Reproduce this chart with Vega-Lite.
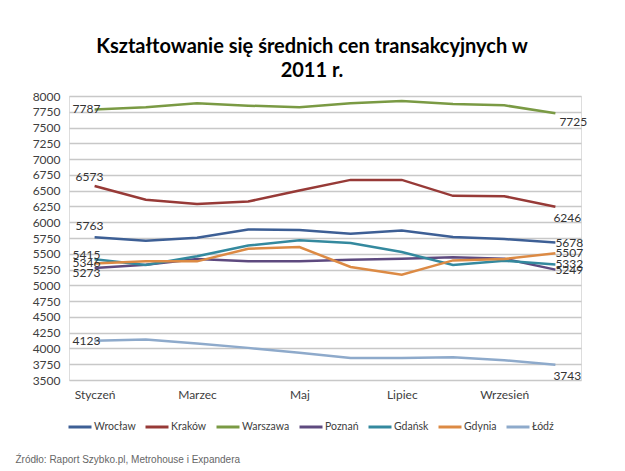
{
  "$schema": "https://vega.github.io/schema/vega-lite/v6.json",
  "width": 512,
  "height": 284,
  "autosize": "none",
  "padding": {"left": 69, "top": 96, "right": 44, "bottom": 91},
  "background": "white",
  "title": {
    "text": ["Kształtowanie się średnich cen transakcyjnych w", "2011 r."],
    "font": "Lato",
    "fontSize": 20,
    "fontWeight": "bold",
    "color": "#000000",
    "anchor": "middle",
    "dx": -13,
    "offset": 9,
    "lineHeight": 24
  },
  "datasets": {
    "prices": [
      {"city": "Wrocław", "month": "Styczeń", "price": 5763},
      {"city": "Wrocław", "month": "Luty", "price": 5705},
      {"city": "Wrocław", "month": "Marzec", "price": 5755},
      {"city": "Wrocław", "month": "Kwiecień", "price": 5885},
      {"city": "Wrocław", "month": "Maj", "price": 5875},
      {"city": "Wrocław", "month": "Czerwiec", "price": 5817},
      {"city": "Wrocław", "month": "Lipiec", "price": 5870},
      {"city": "Wrocław", "month": "Sierpień", "price": 5765},
      {"city": "Wrocław", "month": "Wrzesień", "price": 5733},
      {"city": "Wrocław", "month": "Październik", "price": 5678},
      {"city": "Kraków", "month": "Styczeń", "price": 6573},
      {"city": "Kraków", "month": "Luty", "price": 6355},
      {"city": "Kraków", "month": "Marzec", "price": 6290},
      {"city": "Kraków", "month": "Kwiecień", "price": 6328},
      {"city": "Kraków", "month": "Maj", "price": 6502},
      {"city": "Kraków", "month": "Czerwiec", "price": 6671},
      {"city": "Kraków", "month": "Lipiec", "price": 6671},
      {"city": "Kraków", "month": "Sierpień", "price": 6418},
      {"city": "Kraków", "month": "Wrzesień", "price": 6413},
      {"city": "Kraków", "month": "Październik", "price": 6246},
      {"city": "Warszawa", "month": "Styczeń", "price": 7787},
      {"city": "Warszawa", "month": "Luty", "price": 7821},
      {"city": "Warszawa", "month": "Marzec", "price": 7884},
      {"city": "Warszawa", "month": "Kwiecień", "price": 7847},
      {"city": "Warszawa", "month": "Maj", "price": 7821},
      {"city": "Warszawa", "month": "Czerwiec", "price": 7884},
      {"city": "Warszawa", "month": "Lipiec", "price": 7921},
      {"city": "Warszawa", "month": "Sierpień", "price": 7873},
      {"city": "Warszawa", "month": "Wrzesień", "price": 7853},
      {"city": "Warszawa", "month": "Październik", "price": 7725},
      {"city": "Poznań", "month": "Styczeń", "price": 5273},
      {"city": "Poznań", "month": "Luty", "price": 5327},
      {"city": "Poznań", "month": "Marzec", "price": 5417},
      {"city": "Poznań", "month": "Kwiecień", "price": 5380},
      {"city": "Poznań", "month": "Maj", "price": 5380},
      {"city": "Poznań", "month": "Czerwiec", "price": 5406},
      {"city": "Poznań", "month": "Lipiec", "price": 5422},
      {"city": "Poznań", "month": "Sierpień", "price": 5443},
      {"city": "Poznań", "month": "Wrzesień", "price": 5422},
      {"city": "Poznań", "month": "Październik", "price": 5249},
      {"city": "Gdańsk", "month": "Styczeń", "price": 5415},
      {"city": "Gdańsk", "month": "Luty", "price": 5322},
      {"city": "Gdańsk", "month": "Marzec", "price": 5460},
      {"city": "Gdańsk", "month": "Kwiecień", "price": 5630},
      {"city": "Gdańsk", "month": "Maj", "price": 5713},
      {"city": "Gdańsk", "month": "Czerwiec", "price": 5670},
      {"city": "Gdańsk", "month": "Lipiec", "price": 5527},
      {"city": "Gdańsk", "month": "Sierpień", "price": 5322},
      {"city": "Gdańsk", "month": "Wrzesień", "price": 5390},
      {"city": "Gdańsk", "month": "Październik", "price": 5332},
      {"city": "Gdynia", "month": "Styczeń", "price": 5346},
      {"city": "Gdynia", "month": "Luty", "price": 5380},
      {"city": "Gdynia", "month": "Marzec", "price": 5380},
      {"city": "Gdynia", "month": "Kwiecień", "price": 5580},
      {"city": "Gdynia", "month": "Maj", "price": 5607},
      {"city": "Gdynia", "month": "Czerwiec", "price": 5290},
      {"city": "Gdynia", "month": "Lipiec", "price": 5168},
      {"city": "Gdynia", "month": "Sierpień", "price": 5395},
      {"city": "Gdynia", "month": "Wrzesień", "price": 5417},
      {"city": "Gdynia", "month": "Październik", "price": 5507},
      {"city": "Łódź", "month": "Styczeń", "price": 4123},
      {"city": "Łódź", "month": "Luty", "price": 4140},
      {"city": "Łódź", "month": "Marzec", "price": 4077},
      {"city": "Łódź", "month": "Kwiecień", "price": 4009},
      {"city": "Łódź", "month": "Maj", "price": 3930},
      {"city": "Łódź", "month": "Czerwiec", "price": 3850},
      {"city": "Łódź", "month": "Lipiec", "price": 3850},
      {"city": "Łódź", "month": "Sierpień", "price": 3860},
      {"city": "Łódź", "month": "Wrzesień", "price": 3813},
      {"city": "Łódź", "month": "Październik", "price": 3743}
    ]
  },
  "data": {"name": "prices"},
  "encoding": {
    "x": {
      "field": "month",
      "type": "ordinal",
      "sort": ["Styczeń", "Luty", "Marzec", "Kwiecień", "Maj", "Czerwiec", "Lipiec", "Sierpień", "Wrzesień", "Październik"],
      "scale": {"type": "point", "padding": 0.5},
      "axis": {
        "values": ["Styczeń", "Marzec", "Maj", "Lipiec", "Wrzesień"],
        "labelAngle": 0,
        "labelFont": "Lato",
        "labelFontSize": 12,
        "labelColor": "#404040",
        "labelPadding": 9,
        "ticks": false,
        "domain": false,
        "grid": false,
        "title": "Źródło: Raport Szybko.pl, Metrohouse i Expandera",
        "titleFont": "Liberation Sans",
        "titleFontSize": 10,
        "titleFontWeight": "normal",
        "titleColor": "#666666",
        "titleAlign": "left",
        "titleAnchor": "start",
        "titleBaseline": "middle",
        "titleX": -54,
        "titleY": 79
      }
    },
    "y": {
      "field": "price",
      "type": "quantitative",
      "scale": {"domain": [3500, 8000], "nice": false, "zero": false},
      "axis": {
        "values": [3500, 3750, 4000, 4250, 4500, 4750, 5000, 5250, 5500, 5750, 6000, 6250, 6500, 6750, 7000, 7250, 7500, 7750, 8000],
        "format": "d",
        "labelFont": "Lato",
        "labelFontSize": 12,
        "labelColor": "#404040",
        "labelPadding": 9,
        "ticks": false,
        "domain": false,
        "grid": true,
        "gridColor": "#c8c8c8",
        "gridWidth": 1.5,
        "title": null
      }
    }
  },
  "layer": [
    {
      "mark": {"type": "line", "strokeWidth": 2.5},
      "encoding": {
        "color": {
          "field": "city",
          "type": "nominal",
          "sort": ["Wrocław", "Kraków", "Warszawa", "Poznań", "Gdańsk", "Gdynia", "Łódź"],
          "scale": {
            "domain": ["Wrocław", "Kraków", "Warszawa", "Poznań", "Gdańsk", "Gdynia", "Łódź"],
            "range": ["#3d5f95", "#973a37", "#7a9a44", "#5e4a7f", "#34899e", "#dc8a44", "#8eaacb"]
          },
          "legend": {
            "title": null,
            "orient": "none",
            "legendX": -2,
            "legendY": 318,
            "direction": "horizontal",
            "columns": 7,
            "columnPadding": 3,
            "symbolType": "stroke",
            "symbolSize": 529,
            "symbolStrokeWidth": 3,
            "labelFont": "Lato",
            "labelFontSize": 10.5,
            "labelColor": "#404040",
            "labelOffset": 1
          }
        }
      }
    },
    {
      "transform": [{"filter": "datum.month == 'Styczeń' && (datum.city == 'Warszawa' || datum.city == 'Gdynia' || datum.city == 'Łódź')"}],
      "mark": {"type": "text", "align": "left", "dx": -22, "dy": 0, "font": "Lato", "fontSize": 12, "color": "#333333"},
      "encoding": {"text": {"field": "price", "type": "quantitative", "format": "d"}}
    },
    {
      "transform": [{"filter": "datum.month == 'Styczeń' && datum.city == 'Kraków'"}],
      "mark": {"type": "text", "align": "left", "dx": -19, "dy": -9, "font": "Lato", "fontSize": 12, "color": "#333333"},
      "encoding": {"text": {"field": "price", "type": "quantitative", "format": "d"}}
    },
    {
      "transform": [{"filter": "datum.month == 'Styczeń' && datum.city == 'Wrocław'"}],
      "mark": {"type": "text", "align": "left", "dx": -19, "dy": -11, "font": "Lato", "fontSize": 12, "color": "#333333"},
      "encoding": {"text": {"field": "price", "type": "quantitative", "format": "d"}}
    },
    {
      "transform": [{"filter": "datum.month == 'Styczeń' && datum.city == 'Gdańsk'"}],
      "mark": {"type": "text", "align": "left", "dx": -22, "dy": -4, "font": "Lato", "fontSize": 12, "color": "#333333"},
      "encoding": {"text": {"field": "price", "type": "quantitative", "format": "d"}}
    },
    {
      "transform": [{"filter": "datum.month == 'Styczeń' && datum.city == 'Poznań'"}],
      "mark": {"type": "text", "align": "left", "dx": -22, "dy": 5, "font": "Lato", "fontSize": 12, "color": "#333333"},
      "encoding": {"text": {"field": "price", "type": "quantitative", "format": "d"}}
    },
    {
      "transform": [{"filter": "datum.month == 'Październik' && (datum.city == 'Wrocław' || datum.city == 'Gdynia' || datum.city == 'Gdańsk' || datum.city == 'Poznań')"}],
      "mark": {"type": "text", "align": "left", "dx": 0, "dy": 0, "font": "Lato", "fontSize": 12, "color": "#333333"},
      "encoding": {"text": {"field": "price", "type": "quantitative", "format": "d"}}
    },
    {
      "transform": [{"filter": "datum.month == 'Październik' && datum.city == 'Warszawa'"}],
      "mark": {"type": "text", "align": "left", "dx": 4, "dy": 9, "font": "Lato", "fontSize": 12, "color": "#333333"},
      "encoding": {"text": {"field": "price", "type": "quantitative", "format": "d"}}
    },
    {
      "transform": [{"filter": "datum.month == 'Październik' && (datum.city == 'Kraków' || datum.city == 'Łódź')"}],
      "mark": {"type": "text", "align": "left", "dx": -2, "dy": 11, "font": "Lato", "fontSize": 12, "color": "#333333"},
      "encoding": {"text": {"field": "price", "type": "quantitative", "format": "d"}}
    }
  ]
}
